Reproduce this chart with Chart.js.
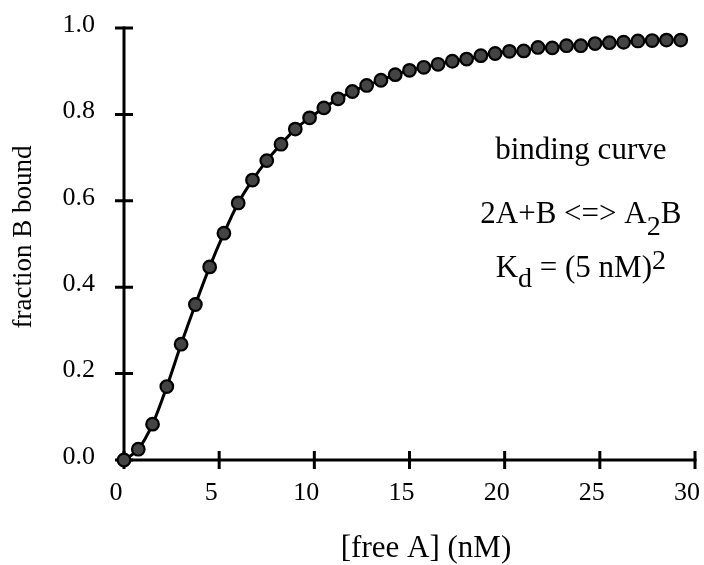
<!DOCTYPE html>
<html>
  <head>
    <title>Binding curve</title>
    <script src="https://cdn.jsdelivr.net/npm/chart.js@4.4.1/dist/chart.umd.min.js"></script>
    <style>
      html, body { margin: 0; padding: 0; background: #fff; }
    </style>
  </head>
  <body>
    <canvas id="myChart" width="704" height="565"></canvas>
  </body>
  <script>
    // free A concentration (nM)
    const freeA = [
      0, 0.75, 1.5, 2.25, 3, 3.75, 4.5, 5.25, 6, 6.75,
      7.5, 8.25, 9, 9.75, 10.5, 11.25, 12, 12.75, 13.5, 14.25,
      15, 15.75, 16.5, 17.25, 18, 18.75, 19.5, 20.25, 21, 21.75,
      22.5, 23.25, 24, 24.75, 25.5, 26.25, 27, 27.75, 28.5, 29.25,
    ]
    // fraction of B bound
    const fractionBound = [
      0.0, 0.025, 0.083, 0.17, 0.268, 0.36, 0.447, 0.525, 0.595, 0.648,
      0.693, 0.731, 0.766, 0.792, 0.815, 0.836, 0.853, 0.867, 0.879, 0.892,
      0.902, 0.909, 0.916, 0.923, 0.928, 0.936, 0.941, 0.946, 0.947, 0.955,
      0.954, 0.959, 0.959, 0.964, 0.966, 0.967, 0.97, 0.971, 0.972, 0.972,
    ]
    const xTicks = [0, 5, 10, 15, 20, 25, 30]
    const yTicks = [0, 0.2, 0.4, 0.6, 0.8, 1.0]

    const serif = 'Liberation Serif'
    Chart.defaults.font.family = serif
    Chart.defaults.color = '#000'

    // axes drawn as lines with ticks crossing both sides
    const crossAxes = {
      id: 'crossAxes',
      beforeDatasetsDraw(chart) {
        const { ctx, scales: { x, y } } = chart
        const x0 = x.getPixelForValue(0)
        const y0 = y.getPixelForValue(0)
        ctx.save()
        ctx.strokeStyle = '#000'
        ctx.lineWidth = 3
        ctx.lineCap = 'square'
        ctx.beginPath()
        ctx.moveTo(x0, y.getPixelForValue(yTicks[yTicks.length - 1]))
        ctx.lineTo(x0, y0)
        ctx.lineTo(x.getPixelForValue(xTicks[xTicks.length - 1]), y0)
        ctx.stroke()
        ctx.lineCap = 'butt'
        ctx.beginPath()
        xTicks.forEach(v => {
          const px = x.getPixelForValue(v)
          ctx.moveTo(px, y0 - 9)
          ctx.lineTo(px, y0 + 9)
        })
        yTicks.forEach(v => {
          const py = y.getPixelForValue(v)
          ctx.moveTo(x0 - 9, py)
          ctx.lineTo(x0 + 9, py)
        })
        ctx.stroke()
        ctx.restore()
      },
    }

    // axis titles and the note on the right
    const labels = {
      id: 'labels',
      afterDraw(chart) {
        const { ctx, scales: { x, y } } = chart
        ctx.save()
        ctx.fillStyle = '#000'
        ctx.textBaseline = 'alphabetic'

        // x title
        ctx.font = '31px ' + serif
        ctx.textAlign = 'center'
        ctx.fillText('[free A] (nM)', 426, 557)

        // y title
        ctx.save()
        ctx.translate(31, 237)
        ctx.rotate(-Math.PI / 2)
        ctx.font = '27px ' + serif
        ctx.fillText('fraction B bound', 0, 0)
        ctx.restore()

        const cx = x.getPixelForValue(24)
        ctx.font = '31px ' + serif
        ctx.fillText('binding curve', cx, y.getPixelForValue(0.697))

        // runs of [text, size, baseline shift]
        const drawRuns = (runs, base) => {
          ctx.textAlign = 'left'
          let w = 0
          runs.forEach(r => { ctx.font = r[1] + 'px ' + serif; w += ctx.measureText(r[0]).width })
          let px = cx - w / 2
          runs.forEach(r => {
            ctx.font = r[1] + 'px ' + serif
            ctx.fillText(r[0], px, base + r[2])
            px += ctx.measureText(r[0]).width
          })
        }
        drawRuns([['2A+B <=> A', 31, 0], ['2', 28, 12], ['B', 31, 0]], y.getPixelForValue(0.549))
        drawRuns([['K', 31, 0], ['d', 28, 10], [' = (5 nM)', 31, 0], ['2', 28, -8]], y.getPixelForValue(0.424))
        ctx.restore()
      },
    }

    const ctx = document.getElementById('myChart').getContext('2d')
    const myChart = new Chart(ctx, {
      type: 'line',
      data: {
        datasets: [
          {
            label: 'fraction B bound',
            data: freeA.map((a, i) => ({ x: a, y: fractionBound[i] })),
            borderColor: '#000',
            borderWidth: 3,
            cubicInterpolationMode: 'monotone',
            pointRadius: 6.3,
            pointBackgroundColor: '#444',
            pointBorderColor: '#000',
            pointBorderWidth: 2.2,
            clip: false,
          },
        ],
      },
      options: {
        responsive: false,
        animation: false,
        events: [],
        layout: { padding: { top: 28, right: 9, left: 0, bottom: 0 } },
        scales: {
          x: {
            type: 'linear',
            min: 0,
            max: 30,
            afterBuildTicks: s => { s.ticks = xTicks.map(v => ({ value: v })) },
            afterFit: s => { s.height = 105; s.paddingLeft = 0; s.paddingRight = 0 },
            grid: { display: false, drawTicks: false },
            border: { display: false },
            ticks: { font: { size: 26 }, padding: 18, labelOffset: -8, maxRotation: 0 },
          },
          y: {
            type: 'linear',
            min: 0,
            max: 1,
            afterBuildTicks: s => { s.ticks = yTicks.map(v => ({ value: v })) },
            afterFit: s => { s.width = 124; s.paddingTop = 0; s.paddingBottom = 0 },
            grid: { display: false, drawTicks: false },
            border: { display: false },
            ticks: { font: { size: 26 }, padding: 29, labelOffset: -3, callback: v => v.toFixed(1) },
          },
        },
        plugins: {
          legend: { display: false },
          tooltip: { enabled: false },
        },
      },
      plugins: [crossAxes, labels],
    })
  </script>
</html>
